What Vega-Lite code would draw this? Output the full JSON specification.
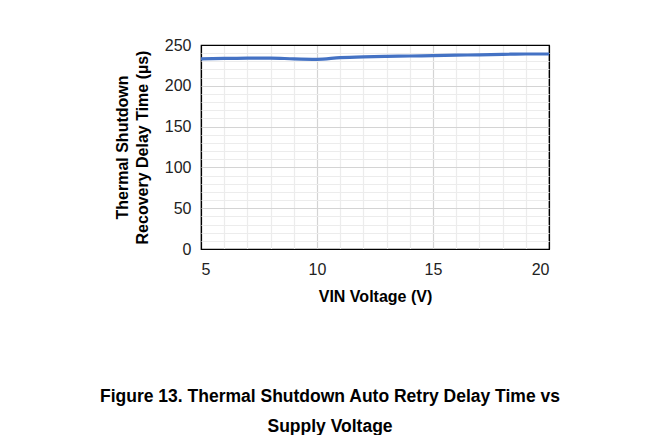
{
  "$schema": "https://vega.github.io/schema/vega-lite/v6.json",
  "autosize": "none",
  "width": 348,
  "height": 204,
  "padding": {"left": 201, "top": 45, "right": 110, "bottom": 186},
  "background": "white",
  "config": {
    "font": "Liberation Sans",
    "view": {"stroke": "#000000", "strokeWidth": 1.2}
  },
  "title": {
    "text": ["Figure 13. Thermal Shutdown Auto Retry Delay Time vs", "Supply Voltage"],
    "orient": "bottom",
    "anchor": "middle",
    "dx": -45,
    "offset": 84,
    "font": "Liberation Sans",
    "fontSize": 17.5,
    "fontWeight": "bold",
    "color": "#000000",
    "lineHeight": 30
  },
  "data": {
    "values": [
      {"v": 5, "t": 233},
      {"v": 6, "t": 233.5},
      {"v": 7, "t": 234},
      {"v": 8, "t": 234},
      {"v": 9, "t": 233},
      {"v": 10, "t": 232.5},
      {"v": 11, "t": 234.5},
      {"v": 12, "t": 235.5},
      {"v": 13, "t": 236},
      {"v": 14, "t": 236.5},
      {"v": 15, "t": 237},
      {"v": 16, "t": 237.5},
      {"v": 17, "t": 238},
      {"v": 18, "t": 238.5},
      {"v": 19, "t": 239},
      {"v": 20, "t": 239}
    ]
  },
  "mark": {"type": "line", "color": "#4472c4", "strokeWidth": 3.2, "interpolate": "monotone"},
  "encoding": {
    "x": {
      "field": "v",
      "type": "quantitative",
      "scale": {"domain": [5, 20], "nice": false},
      "axis": {
        "title": "VIN Voltage (V)",
        "titleFontSize": 16,
        "titleFontWeight": "bold",
        "titleColor": "#000000",
        "titlePadding": 11,
        "values": [5,6,7,8,9,10,11,12,13,14,15,16,17,18,19,20],
        "labelExpr": "datum.value % 5 === 0 ? datum.label : ''",
        "labelFontSize": 16,
        "labelColor": "#222222",
        "labelPadding": 12,
        "ticks": false,
        "domain": false,
        "grid": true,
        "gridColor": {"condition": [
          {"test": "datum.value === 5 || datum.value === 20", "value": "#000000"},
          {"test": "datum.value % 5 === 0", "value": "#d4d4d4"}
        ], "value": "#ececec"},
        "gridWidth": 1.2
      }
    },
    "y": {
      "field": "t",
      "type": "quantitative",
      "scale": {"domain": [0, 250], "nice": false},
      "axis": {
        "title": ["Thermal Shutdown", "Recovery Delay Time (µs)"],
        "titleFontSize": 16,
        "titleFontWeight": "bold",
        "titleColor": "#000000",
        "titlePadding": 14,
        "titleLineHeight": 20,
        "values": [0,10,20,30,40,50,60,70,80,90,100,110,120,130,140,150,160,170,180,190,200,210,220,230,240,250],
        "labelExpr": "datum.value % 50 === 0 ? datum.label : ''",
        "labelFontSize": 16,
        "labelColor": "#222222",
        "labelPadding": 10,
        "ticks": false,
        "domain": false,
        "grid": true,
        "gridColor": {"condition": [
          {"test": "datum.value === 0 || datum.value === 250", "value": "#000000"},
          {"test": "datum.value % 50 === 0", "value": "#d4d4d4"}
        ], "value": "#ececec"},
        "gridWidth": 1.2
      }
    }
  }
}
